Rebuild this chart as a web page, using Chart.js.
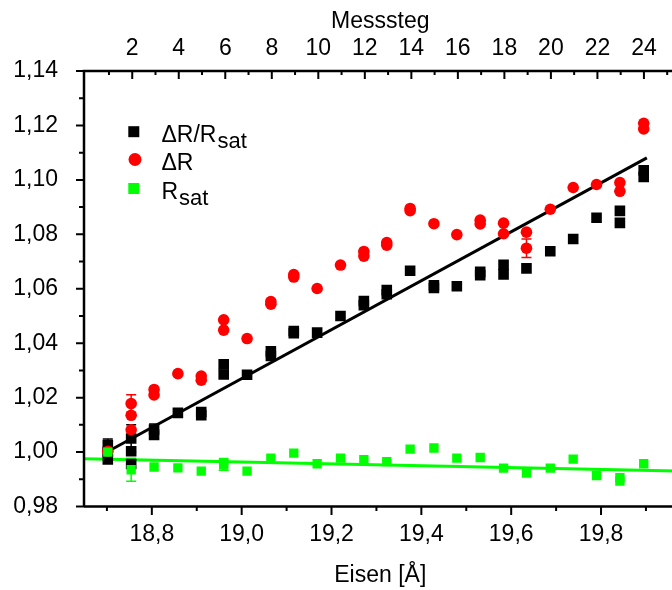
<!DOCTYPE html>
<html>
<head>
<meta charset="utf-8">
<script src="https://cdn.jsdelivr.net/npm/chart.js@4/dist/chart.umd.min.js"></script>
<style>
  html, body { margin: 0; padding: 0; background: #fff; overflow: hidden; }
  #wrap { width: 672px; height: 590px; overflow: hidden; }
</style>
</head>
<body>
<div id="wrap"><canvas id="myChart" width="684" height="590"></canvas></div>
<script>
// Eisen thickness of each Messsteg (1..24)
const eisen = [18.702, 18.754, 18.805, 18.858, 18.910, 18.960, 19.012, 19.065,
  19.116, 19.168, 19.220, 19.272, 19.323, 19.375, 19.428, 19.479,
  19.531, 19.583, 19.634, 19.687, 19.738, 19.790, 19.842, 19.895];

// ΔR/Rsat, several measurements per step
const ratio = [[1.0026, 1.0000, 0.9973], [1.0050, 1.0003, 0.9956], [1.0083, 1.0063], [1.0144],
  [1.0147, 1.0135], [1.0322, 1.0285], [1.0284], [1.0370, 1.0353],
  [1.0445, 1.0437], [1.0439], [1.0500], [1.0555, 1.0540],
  [1.0595, 1.0580], [1.0666], [1.0613, 1.0603], [1.0609],
  [1.0662, 1.0650], [1.0688, 1.0653], [1.0675], [1.0738],
  [1.0783], [1.0861], [1.0886, 1.0842], [1.1035, 1.1011]];

// ΔR
const deltaR = [[1.0003], [1.0178, 1.0135, 1.0082], [1.0230, 1.0210], [1.0288],
  [1.0279, 1.0264], [1.0486, 1.0448], [1.0417], [1.0553, 1.0543],
  [1.0652, 1.0643], [1.0601], [1.0687], [1.0737, 1.0720],
  [1.0770, 1.0760], [1.0895, 1.0887], [1.0839], [1.0799],
  [1.0852, 1.0838], [1.0841, 1.0802], [1.0808, 1.0749], [1.0892],
  [1.0972], [1.0983], [1.0990, 1.0958], [1.1208, 1.1187]];

// Rsat
const rSat = [[1.0000], [0.9935], [0.9945], [0.9942],
  [0.9930], [0.9962, 0.9953], [0.9930], [0.9978],
  [0.9996], [0.9957], [0.9978], [0.9972],
  [0.9965], [1.0011], [1.0015], [0.9978],
  [0.9980], [0.9941], [0.9923], [0.9941],
  [0.9974], [0.9914], [0.9906, 0.9893], [0.9957]];

// error bars: [series, step, value, error]
const errorBars = [
  ['ratio', 1, 1.0026, 0.0022],
  ['ratio', 2, 1.0050, 0.0050],
  ['ratio', 3, 1.0083, 0.0020],
  ['deltaR', 2, 1.0178, 0.0033],
  ['deltaR', 19, 1.0749, 0.0034],
  ['rSat', 2, 0.9935, 0.0042],
  ['rSat', 6, 0.9953, 0.0020]
];

// linear fits
const fitRatioX = [18.702, 19.902];
const fitRatioY = [1.0002, 1.1081];
const fitSatX = [18.649, 19.968];
const fitSatY = [0.9975, 0.9930];

// axes
const eisenMin = 18.649, eisenMax = 19.968;
const stepMin = -0.074, stepMax = 25.40;
const yMin = 0.98, yMax = 1.14;

// legend texts
const legendNames = ['ΔR/R', 'ΔR', 'R'];
const legendSubs = ['sat', '', 'sat'];

const colors = { ratio: '#000000', deltaR: '#ff0000', rSat: '#00ff00' };
const FONT = '"Liberation Sans", Arial, Helvetica, sans-serif';

function toPoints(series) {
  const out = [];
  series.forEach((vals, i) => vals.forEach(v => out.push({ x: eisen[i], y: v })));
  return out;
}
function toLine(xs, ys) {
  return xs.map((x, i) => ({ x: x, y: ys[i] }));
}

// Frame: axis lines and tick marks (top ticks point inward)
const framePlugin = {
  id: 'frame',
  afterDatasetsDraw(chart) {
    const { ctx, chartArea: a, scales } = chart;
    ctx.save();
    ctx.strokeStyle = '#000';
    ctx.lineWidth = 2;
    ctx.beginPath();
    for (let i = 0; i <= 16; i++) {
      const py = scales.y.getPixelForValue(yMin + i * 0.01);
      const len = i % 2 === 0 ? 8 : 5;
      ctx.moveTo(a.left - len, py);
      ctx.lineTo(a.left, py);
    }
    for (let i = 187; i <= 199; i++) {
      const v = i / 10;
      if (v < eisenMin || v > eisenMax) continue;
      const px = scales.x.getPixelForValue(v);
      const len = i % 2 === 0 ? 8.5 : 4.5;
      ctx.moveTo(px, a.bottom);
      ctx.lineTo(px, a.bottom + len);
    }
    for (let s = 1; s <= 25; s++) {
      const px = scales.top.getPixelForValue(s);
      const len = s % 2 === 0 ? 8 : 4;
      ctx.moveTo(px, a.top);
      ctx.lineTo(px, a.top + len);
    }
    ctx.stroke();
    ctx.lineWidth = 2.5;
    ctx.beginPath();
    ctx.moveTo(a.left, a.bottom);
    ctx.lineTo(a.left, a.top);
    ctx.lineTo(a.right, a.top);
    ctx.moveTo(a.left, a.bottom);
    ctx.lineTo(a.right, a.bottom);
    ctx.stroke();
    ctx.restore();
  }
};

// Error bars drawn behind the markers
const errorPlugin = {
  id: 'errors',
  beforeDatasetsDraw(chart) {
    const { ctx, scales } = chart;
    ctx.save();
    ctx.lineWidth = 1.5;
    errorBars.forEach(([series, step, value, err]) => {
      const px = scales.x.getPixelForValue(eisen[step - 1]);
      const y1 = scales.y.getPixelForValue(value + err);
      const y2 = scales.y.getPixelForValue(value - err);
      ctx.strokeStyle = colors[series];
      ctx.beginPath();
      ctx.moveTo(px, y1); ctx.lineTo(px, y2);
      ctx.moveTo(px - 5, y1); ctx.lineTo(px + 5, y1);
      ctx.moveTo(px - 5, y2); ctx.lineTo(px + 5, y2);
      ctx.stroke();
    });
    ctx.restore();
  }
};

// Legend with subscripts
const legendPlugin = {
  id: 'subLegend',
  afterDraw(chart) {
    const ctx = chart.ctx;
    const keys = ['ratio', 'deltaR', 'rSat'];
    const rows = [131.7, 159.5, 188.5];
    ctx.save();
    ctx.textBaseline = 'alphabetic';
    keys.forEach((k, i) => {
      const cy = rows[i];
      ctx.fillStyle = colors[k];
      if (k === 'deltaR') {
        ctx.beginPath();
        ctx.arc(135, cy, 6.5, 0, Math.PI * 2);
        ctx.fill();
      } else {
        ctx.fillRect(128.3, cy - 5.5, 11, 11);
      }
      ctx.fillStyle = '#000';
      ctx.font = '23px ' + FONT;
      const base = cy + 10;
      ctx.fillText(legendNames[i], 161.5, base);
      if (legendSubs[i]) {
        const w = ctx.measureText(legendNames[i]).width;
        ctx.font = '22px ' + FONT;
        ctx.fillText(legendSubs[i], 161.5 + w + 1, base + 6);
      }
    });
    ctx.restore();
  }
};

const tickFont = { family: FONT, size: 23 };

const ctx = document.getElementById('myChart').getContext('2d');
const myChart = new Chart(ctx, {
  type: 'scatter',
  data: {
    datasets: [
      {
        label: 'Rsat',
        data: toPoints(rSat),
        backgroundColor: colors.rSat,
        borderWidth: 0,
        pointStyle: 'rect',
        pointRadius: 6.6,
        order: 0
      },
      {
        label: 'ΔR',
        data: toPoints(deltaR),
        backgroundColor: colors.deltaR,
        borderWidth: 0,
        pointStyle: 'circle',
        pointRadius: 5.8,
        order: 1
      },
      {
        label: 'ΔR/Rsat',
        data: toPoints(ratio),
        backgroundColor: colors.ratio,
        borderWidth: 0,
        pointStyle: 'rect',
        pointRadius: 7.5,
        order: 2
      },
      {
        type: 'line',
        label: 'fit ΔR/Rsat',
        data: toLine(fitRatioX, fitRatioY),
        borderColor: colors.ratio,
        borderWidth: 3,
        pointRadius: 0,
        order: 3
      },
      {
        type: 'line',
        label: 'fit Rsat',
        data: toLine(fitSatX, fitSatY),
        borderColor: colors.rSat,
        borderWidth: 3,
        pointRadius: 0,
        order: 4
      }
    ]
  },
  options: {
    responsive: false,
    animation: false,
    devicePixelRatio: 1,
    layout: { padding: 0 },
    plugins: {
      legend: { display: false },
      tooltip: { enabled: false }
    },
    scales: {
      x: {
        type: 'linear',
        position: 'bottom',
        min: eisenMin,
        max: eisenMax,
        grid: { display: false, drawTicks: false },
        border: { display: false },
        ticks: {
          stepSize: 0.2,
          includeBounds: false,
          autoSkip: false,
          maxRotation: 0,
          padding: 14.7,
          color: '#000',
          font: tickFont,
          callback: v => v.toFixed(1).replace('.', ',')
        },
        title: {
          display: true,
          text: 'Eisen [Å]',
          color: '#000',
          font: tickFont,
          padding: { top: 0, bottom: 0.7 }
        },
        afterFit: s => { s.height = 83.5; s.paddingLeft = 0; s.paddingRight = 0; }
      },
      top: {
        type: 'linear',
        axis: 'x',
        position: 'top',
        min: stepMin,
        max: stepMax,
        grid: { display: false, drawTicks: false },
        border: { display: false },
        ticks: {
          stepSize: 2,
          includeBounds: false,
          autoSkip: false,
          maxRotation: 0,
          padding: 8.9,
          color: '#000',
          font: tickFont,
          callback: v => (v > 0 ? String(v) : '')
        },
        title: {
          display: true,
          text: 'Messsteg',
          color: '#000',
          font: tickFont,
          padding: { top: 7.9, bottom: 0 }
        },
        afterFit: s => { s.height = 71; s.paddingLeft = 0; s.paddingRight = 0; }
      },
      y: {
        type: 'linear',
        position: 'left',
        min: yMin,
        max: yMax,
        grid: { display: false, drawTicks: false },
        border: { display: false },
        ticks: {
          stepSize: 0.02,
          autoSkip: false,
          padding: 26,
          color: '#000',
          font: tickFont,
          callback: v => v.toFixed(2).replace('.', ',')
        },
        afterFit: s => { s.width = 84; s.paddingTop = 0; s.paddingBottom = 0; }
      }
    }
  },
  plugins: [errorPlugin, framePlugin, legendPlugin]
});
</script>
</body>
</html>
